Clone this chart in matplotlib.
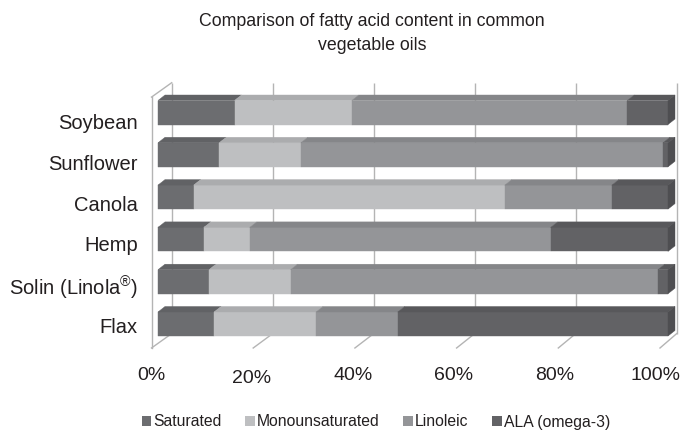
import matplotlib
matplotlib.use('Agg')
import matplotlib.pyplot as plt
from matplotlib.patches import Polygon, Patch
import matplotlib.transforms as mtrans
import numpy as np

# ---------------- data ----------------
categories = ['Soybean', 'Sunflower', 'Canola', 'Hemp',
              'Solin (Linola$^{\\mathregular{®}}$)', 'Flax']
series_names = ['Saturated', 'Monounsaturated', 'Linoleic', 'ALA (omega-3)']
saturated = [15, 12, 7, 9, 10, 11]
monounsaturated = [23, 16, 61, 9, 16, 20]
linoleic = [54, 71, 21, 59, 72, 16]
ala = [8, 1, 11, 23, 2, 53]
x_ticks = [0, 20, 40, 60, 80, 100]
x_tick_labels = ['0%', '20%', '40%', '60%', '80%', '100%']
title = 'Comparison of fatty acid content in common\nvegetable oils'

# ---------------- style ----------------
front_colors = ['#6c6d70', '#bebfc1', '#949598', '#626265']
text_color = '#231f20'
line_color = '#b4b4b4'
plt.rcParams['font.family'] = ['Liberation Sans', 'DejaVu Sans']
plt.rcParams['mathtext.fontset'] = 'custom'
plt.rcParams['mathtext.rm'] = 'Liberation Sans'


def shade(c, f):
    r, g, b = matplotlib.colors.to_rgb(c)
    return (r * f, g * f, b * f)


W, H = 684, 430
fig = plt.figure(figsize=(W / 100, H / 100), dpi=100)

# axes placement in pixels
L, R, T, B = 140, 684, 70, 352
ax = fig.add_axes([L / W, 1 - B / H, (R - L) / W, (B - T) / H])
PXX, X0 = 5.1, 158.0      # px per percent, px of 0% (bar front plane)
PXY, Y0 = 42.3, 112.5     # px per category, px of first category centre
ax.set_xlim((L - X0) / PXX, (R - X0) / PXX)
ax.set_ylim((B - Y0) / PXY, (T - Y0) / PXY)
for s in ax.spines.values():
    s.set_visible(False)
ax.set_facecolor('none')


def back_x(xv):
    return (13.7 + 5.05 * xv) / PXX


def front_x(xv):
    return (-6.5 + 5.085 * xv) / PXX


# depth geometry (px -> data)
bar_dx, bar_dy = 7.0 / PXX, 5.5 / PXY       # bar depth
back_dy = 9.7 / PXY                          # bar front -> back wall
fr_dy = 4.7 / PXY                            # bar front -> floor front
y_top = (92.4 - Y0) / PXY
y_bot = (343.3 - Y0) / PXY
bar_h = 24.0 / PXY

lw = 1.0
for xv in x_ticks:
    # back wall gridlines (incl. edges)
    ax.plot([back_x(xv), back_x(xv)], [y_top - back_dy, y_bot - back_dy],
            color=line_color, lw=lw, zorder=1, solid_capstyle='butt')
    # floor diagonals
    ax.plot([front_x(xv), back_x(xv)], [y_bot + fr_dy, y_bot - back_dy],
            color=line_color, lw=lw, zorder=1)
# left wall
ax.plot([front_x(0), front_x(0)], [y_top + fr_dy, y_bot + fr_dy], color=line_color, lw=lw, zorder=1)
ax.plot([front_x(0), back_x(0)], [y_top + fr_dy, y_top - back_dy], color=line_color, lw=lw, zorder=1)

# bars
series = [saturated, monounsaturated, linoleic, ala]
for i in range(len(categories)):
    vals = np.array([s[i] for s in series], dtype=float)
    vals = vals / vals.sum() * 100
    left = 0.0
    top = i - bar_h / 2
    bot = i + bar_h / 2
    for j, v in enumerate(vals):
        c = front_colors[j]
        front = Polygon([(left, top), (left + v, top), (left + v, bot), (left, bot)],
                        closed=True, facecolor=c, edgecolor=c, lw=0.3, zorder=3)
        ax.add_patch(front)
        topf = Polygon([(left, top), (left + v, top), (left + v + bar_dx, top - bar_dy),
                        (left + bar_dx, top - bar_dy)], closed=True,
                       facecolor=shade(c, 0.9), edgecolor=shade(c, 0.9), lw=0.3, zorder=3)
        ax.add_patch(topf)
        left += v
    c = front_colors[-1]
    side = Polygon([(left, top), (left + bar_dx, top - bar_dy), (left + bar_dx, bot - bar_dy),
                    (left, bot)], closed=True, facecolor=shade(c, 0.8),
                   edgecolor=shade(c, 0.8), lw=0.3, zorder=3)
    ax.add_patch(side)

# x ticks (labels sit on the floor front edge)
ax.set_xticks(x_ticks)
ax.set_xticklabels(x_tick_labels, fontsize=14, color=text_color)
ax.tick_params(axis='x', length=0, pad=11)
for k, lab in enumerate(ax.get_xticklabels()):
    dx_px = (151 + 101 * k) - (X0 + PXX * x_ticks[k])
    dy_px = -2.5 if k == 1 else 0.0
    lab.set_transform(lab.get_transform() +
                      mtrans.ScaledTranslation(dx_px / 100, dy_px / 100, fig.dpi_scale_trans))

# y ticks (labels on the floor front plane)
label_pos = [(121.5 + 40.8 * i - Y0) / PXY for i in range(len(categories))]
ax.set_yticks(label_pos)
ax.set_yticklabels(categories, fontsize=14.5, color=text_color)
ax.tick_params(axis='y', length=0, pad=1.5)

# title
fig.text(372 / W, 1 - 13 / H, title, ha='center', va='top', fontsize=12.8,
         color=text_color, linespacing=1.5)

# legend
handles = [Patch(facecolor=c, edgecolor='none') for c in front_colors]
fig.legend(handles, series_names, loc='center', bbox_to_anchor=(376 / W, 1 - 422 / H),
           ncol=4, frameon=False, fontsize=11.3, handlelength=0.6, handleheight=0.6,
           handletextpad=0.15, columnspacing=1.5, labelcolor=text_color,
           borderaxespad=0, borderpad=0)

fig.savefig('out.png', dpi=100)
